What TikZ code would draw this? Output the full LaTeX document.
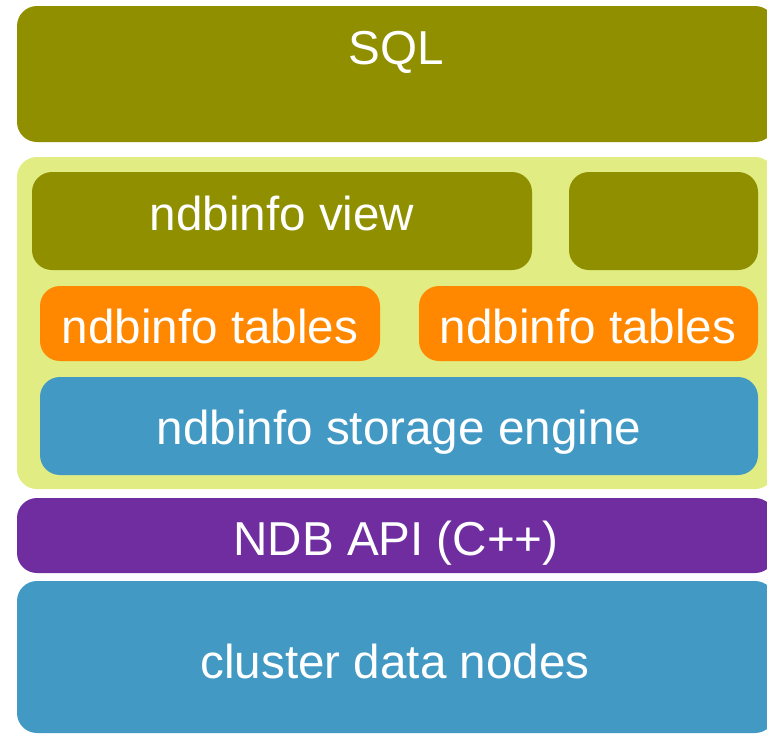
\documentclass[tikz,border=0pt]{standalone}
\usepackage{fontspec}
\setmainfont{Liberation Sans}
\definecolor{olivebox}{RGB}{143,143,0}
\definecolor{limebox}{RGB}{225,236,130}
\definecolor{orangebox}{RGB}{255,136,0}
\definecolor{bluebox}{RGB}{66,153,196}
\definecolor{purplebox}{RGB}{111,45,160}
\tikzset{
  layer/.style={rectangle, rounded corners=20pt, inner sep=0pt, outer sep=0pt,
    anchor=north west, draw=none},
  lbl/.style={text=white, anchor=base, inner sep=0pt,
    font=\fontsize{47.6}{52}\selectfont},
}
\begin{document}
\begin{tikzpicture}[x=1pt,y=-1pt]
\useasboundingbox (0,0) rectangle (767,734);
\clip (0,0) rectangle (767,734);
% stack of layers, top to bottom
\node[layer, fill=olivebox, minimum width=758pt, minimum height=136pt] (sql) at (17,6) {};
\node[layer, fill=limebox, minimum width=758pt, minimum height=332pt] (ndbinfo) at (17,157) {};
\node[layer, fill=olivebox, minimum width=500pt, minimum height=98pt] (view) at (32,172) {};
\node[layer, fill=olivebox, minimum width=189pt, minimum height=98pt] (view2) at (569,172) {};
\node[layer, fill=orangebox, minimum width=340pt, minimum height=75pt] (tabA) at (40,286) {};
\node[layer, fill=orangebox, minimum width=339pt, minimum height=75pt] (tabB) at (419,286) {};
\node[layer, fill=bluebox, minimum width=718pt, minimum height=98pt] (engine) at (40,377) {};
\node[layer, fill=purplebox, minimum width=758pt, minimum height=75pt] (api) at (17,498) {};
\node[layer, fill=bluebox, minimum width=758pt, minimum height=152pt] (data) at (17,581) {};
% labels
\node[lbl] (sqlT) at (396,64) {SQL};
\node[lbl] (viewT) at (282,230) {ndbinfo view};
\node[lbl] (tabAT) at (210,343) {ndbinfo tables};
\node[lbl] (tabBT) at (588,343) {ndbinfo tables};
\node[lbl] (engineT) at (399,444) {ndbinfo storage engine};
\node[lbl] (apiT) at (396,555) {NDB API (C++)};
\node[lbl] (dataT) at (395,678) {cluster data nodes};
\end{tikzpicture}
\end{document}
